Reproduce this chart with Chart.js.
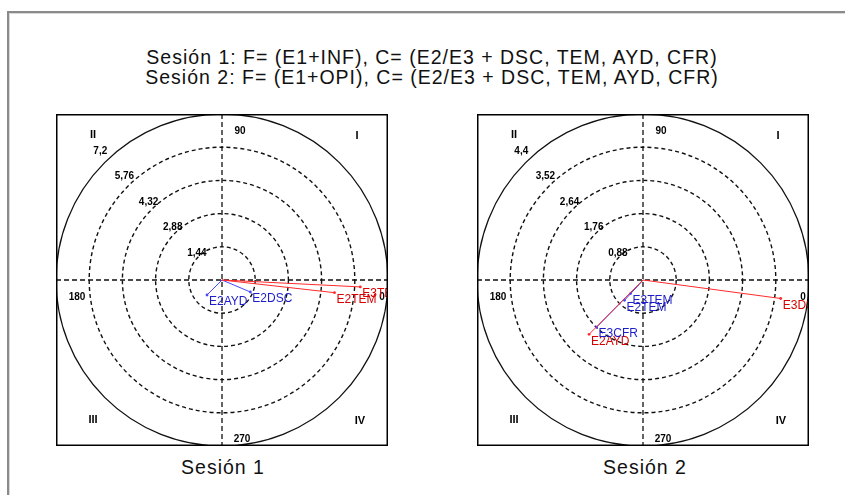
<!DOCTYPE html>
<html>
<head>
<meta charset="utf-8">
<script src="https://cdn.jsdelivr.net/npm/chart.js@4/dist/chart.umd.min.js"></script>
<style>
  html, body { margin: 0; padding: 0; background: #fff; }
  body { width: 845px; height: 495px; position: relative; overflow: hidden; font-family: "Liberation Sans", Arial, sans-serif; }
  .frame { position: absolute; left: 7px; top: 11px; right: -10px; bottom: -10px;
           border-top: 2px solid #8a8a8a; border-left: 2px solid #8a8a8a;
           box-shadow: inset 1px 1px 0 #d8d8d8; }
  .title { position: absolute; left: 0; width: 864px; top: 47px; text-align: center;
           font-size: 19.5px; line-height: 20px; letter-spacing: 1px; color: #111; }
  .caption { position: absolute; top: 456px; width: 200px; text-align: center;
             font-size: 19.5px; letter-spacing: 1px; color: #111; }
  canvas { position: absolute; top: 114px; }
</style>
</head>
<body>
<div class="frame"></div>
<div class="title">Sesión 1: F= (E1+INF), C= (E2/E3 + DSC, TEM, AYD, CFR)<br>Sesión 2: F= (E1+OPI), C= (E2/E3 + DSC, TEM, AYD, CFR)</div>
<canvas id="chart1" width="332" height="332" style="left:56px"></canvas>
<canvas id="chart2" width="332" height="332" style="left:477px"></canvas>
<div class="caption" style="left:123px">Sesión 1</div>
<div class="caption" style="left:545px">Sesión 2</div>

<script>
// ================================
// DATA
// ================================
const ANGLE_LABELS = ['0', '90', '180', '270'];
const QUADRANT_LABELS = ['I', 'II', 'III', 'IV'];

// Sesión 1
const S1_RINGS = [1.44, 2.88, 4.32, 5.76, 7.2];
const S1_RING_LABELS = ['1,44', '2,88', '4,32', '5,76', '7,2'];
const S1_NAMES = ['E3TEM', 'E2TEM', 'E2AYD', 'E2DSC'];
const S1_X = [6.0, 4.88, -0.65, 1.23];
const S1_Y = [-0.30, -0.55, -0.65, -0.52];
const S1_GROUP = ['rojo', 'rojo', 'azul', 'azul'];

// Sesión 2
const S2_RINGS = [0.88, 1.76, 2.64, 3.52, 4.4];
const S2_RING_LABELS = ['0,88', '1,76', '2,64', '3,52', '4,4'];
const S2_NAMES = ['E3DSC', 'E2AYD', 'E3CFR', 'E3TEM', 'E2TEM'];
const S2_X = [3.65, -1.43, -1.23, -0.33, -0.49];
const S2_Y = [-0.49, -1.44, -1.25, -0.36, -0.54];
const S2_GROUP = ['rojo', 'rojo', 'azul', 'azul', 'azul'];

// ================================
// STYLE
// ================================
const COLORS = {
  rojo: { line: '#ff2a2a', text: '#d80000' },
  azul: { line: '#4646ff', text: '#1c1cc8' }
};
const SMALL_FONT = 'bold 10px "Liberation Sans Narrow", "Liberation Sans", Arial, sans-serif';
const VEC_FONT = '12px "Liberation Sans Narrow", "Liberation Sans", Arial, sans-serif';

// ================================
// PLUGIN: polar grid + labels
// ================================
const polarGrid = {
  id: 'polarGrid',
  beforeDatasetsDraw(chart, args, opts) {
    const { ctx, chartArea: a, scales: { x, y } } = chart;
    const cx = x.getPixelForValue(0);
    const cy = y.getPixelForValue(0);
    const rings = opts.rings;

    ctx.save();
    ctx.beginPath();
    ctx.rect(a.left, a.top, a.right - a.left, a.bottom - a.top);
    ctx.clip();

    // rings
    ctx.strokeStyle = '#111';
    rings.forEach((r, i) => {
      const rad = x.getPixelForValue(r) - cx;
      const outer = i === rings.length - 1;
      ctx.lineWidth = outer ? 1.3 : 1.4;
      ctx.setLineDash(outer ? [] : [4, 3]);
      ctx.beginPath();
      ctx.arc(cx, cy, rad, 0, Math.PI * 2);
      ctx.stroke();
    });

    // axes
    ctx.lineWidth = 1.3;
    ctx.setLineDash([5, 3]);
    ctx.beginPath();
    ctx.moveTo(a.left, cy); ctx.lineTo(a.right, cy);
    ctx.moveTo(cx, a.top); ctx.lineTo(cx, a.bottom);
    ctx.stroke();
    ctx.setLineDash([]);

    // ring labels (along the upper-left diagonal)
    ctx.fillStyle = '#000';
    ctx.font = SMALL_FONT;
    ctx.textAlign = 'center';
    ctx.textBaseline = 'middle';
    rings.forEach((r, i) => {
      const d = r * 1.06 / Math.SQRT2;
      const px = x.getPixelForValue(-d * 0.97);
      const py = y.getPixelForValue(d * 1.03);
      ctx.fillText(opts.ringLabels[i], px - 1, py - 1);
    });

    // angle labels
    const R = x.getPixelForValue(rings[rings.length - 1]) - cx;
    ctx.fillText(ANGLE_LABELS[0], cx + R - 6, cy + 17);
    ctx.fillText(ANGLE_LABELS[1], cx + 18, cy - R + 17);
    ctx.fillText(ANGLE_LABELS[2], cx - R + 21, cy + 17);
    ctx.fillText(ANGLE_LABELS[3], cx + 20, cy + R - 7);

    // quadrant labels
    ctx.font = 'bold 11px "Liberation Sans Narrow", "Liberation Sans", Arial, sans-serif';
    ctx.fillText(QUADRANT_LABELS[0], cx + 135, cy - 144);
    ctx.fillText(QUADRANT_LABELS[1], cx - 129, cy - 145);
    ctx.fillText(QUADRANT_LABELS[2], cx - 129, cy + 140);
    ctx.fillText(QUADRANT_LABELS[3], cx + 138, cy + 141);
    ctx.restore();
  },
  afterDatasetsDraw(chart, args, opts) {
    const { ctx, chartArea: a, scales: { x, y } } = chart;
    ctx.save();
    ctx.beginPath();
    ctx.rect(a.left, a.top, a.right - a.left, a.bottom - a.top);
    ctx.clip();
    ctx.font = VEC_FONT;
    ctx.textAlign = 'left';
    ctx.textBaseline = 'top';
    opts.names.forEach((name, i) => {
      const px = x.getPixelForValue(opts.xs[i]);
      const py = y.getPixelForValue(opts.ys[i]);
      ctx.fillStyle = COLORS[opts.groups[i]].text;
      ctx.fillText(name, px + 2, py + 1);
    });
    ctx.restore();

    // box
    ctx.save();
    ctx.strokeStyle = '#000';
    ctx.lineWidth = 1.5;
    ctx.strokeRect(a.left + 0.75, a.top + 0.75, a.right - a.left - 1.5, a.bottom - a.top - 1.5);
    ctx.restore();
  }
};

// ================================
// BUILD
// ================================
function buildDatasets(names, xs, ys, groups) {
  // red vectors first so the blue ones sit on top
  const idx = names.map((_, i) => i)
    .sort((a, b) => (groups[a] === 'rojo' ? 0 : 1) - (groups[b] === 'rojo' ? 0 : 1));
  return idx.map(i => ({
    label: names[i],
    data: [{ x: 0, y: 0 }, { x: xs[i], y: ys[i] }],
    showLine: true,
    borderColor: COLORS[groups[i]].line,
    backgroundColor: COLORS[groups[i]].line,
    borderWidth: 1,
    pointRadius: [0, 1.4],
    pointHoverRadius: 0,
    pointBorderWidth: 0
  }));
}

function renderPolar(id, rings, ringLabels, names, xs, ys, groups) {
  const max = rings[rings.length - 1];
  new Chart(document.getElementById(id), {
    type: 'scatter',
    data: { datasets: buildDatasets(names, xs, ys, groups) },
    options: {
      responsive: false,
      animation: false,
      layout: { padding: 0, autoPadding: false },
      scales: {
        x: { type: 'linear', min: -max, max: max, display: false },
        y: { type: 'linear', min: -max, max: max, display: false }
      },
      plugins: {
        legend: { display: false },
        tooltip: { enabled: false },
        polarGrid: { rings, ringLabels, names, xs, ys, groups }
      }
    },
    plugins: [polarGrid]
  });
}

renderPolar('chart1', S1_RINGS, S1_RING_LABELS, S1_NAMES, S1_X, S1_Y, S1_GROUP);
renderPolar('chart2', S2_RINGS, S2_RING_LABELS, S2_NAMES, S2_X, S2_Y, S2_GROUP);
</script>
</body>
</html>
